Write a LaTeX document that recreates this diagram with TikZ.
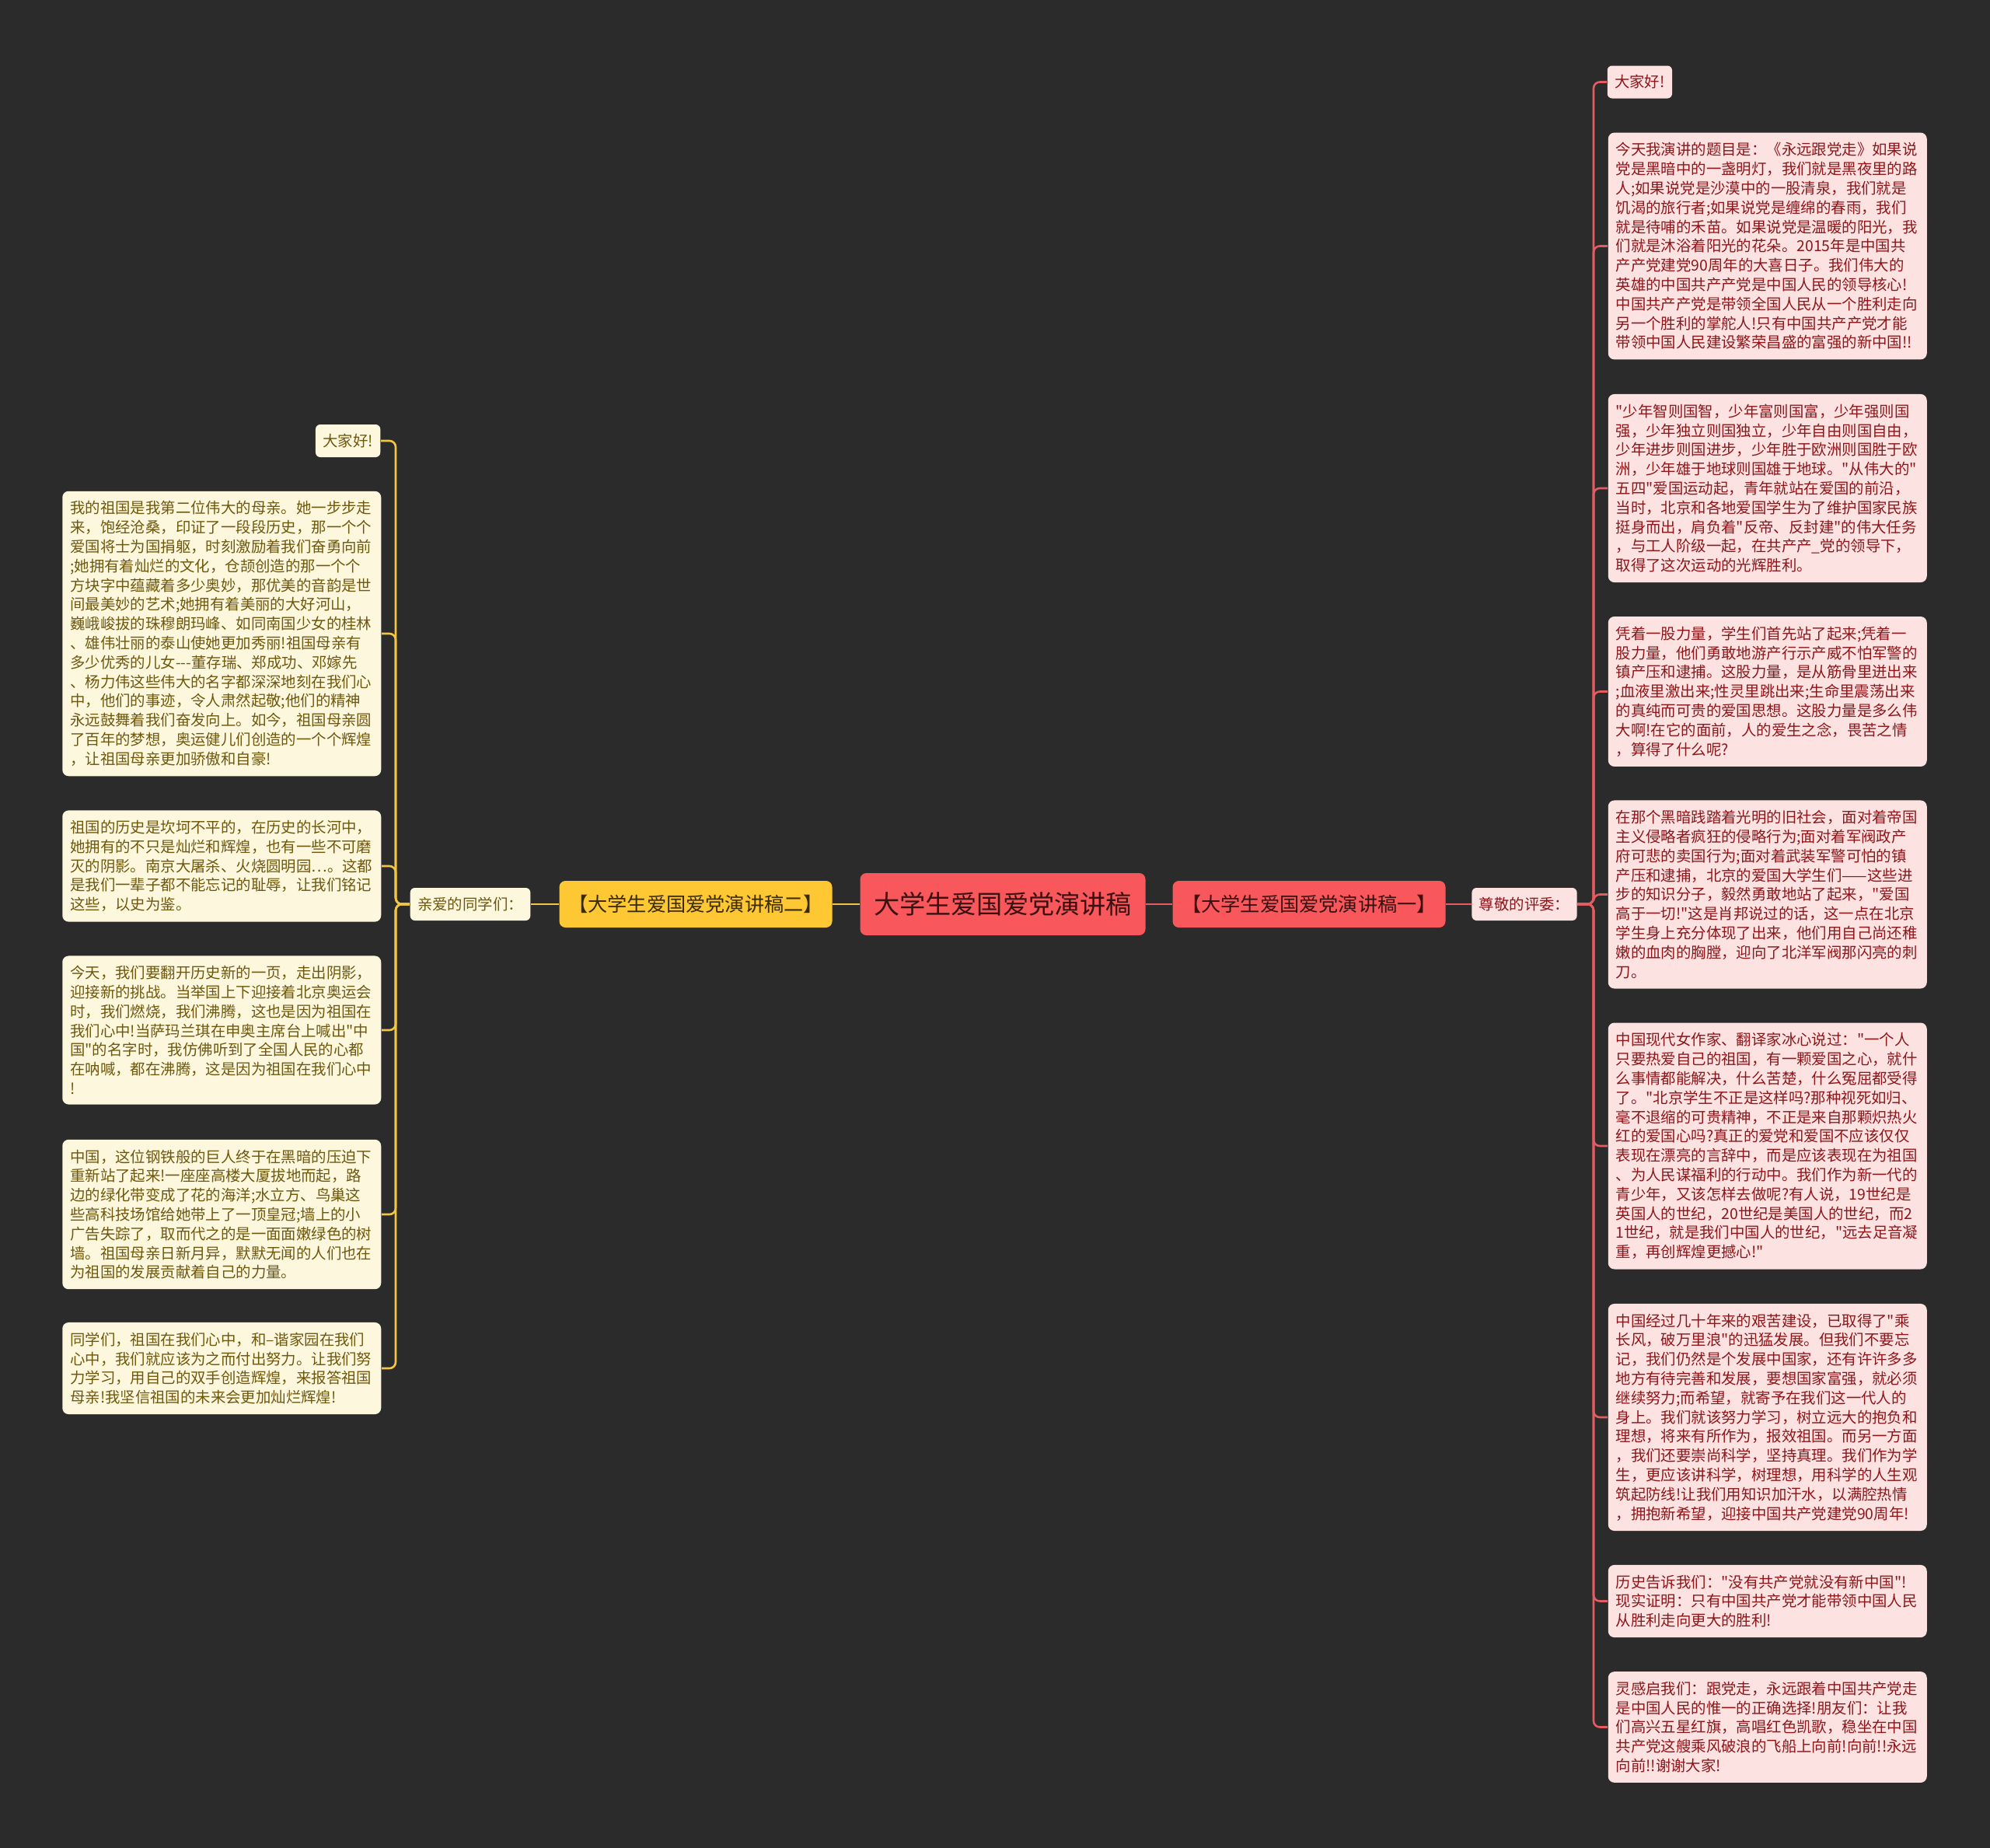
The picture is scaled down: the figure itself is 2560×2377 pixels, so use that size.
\documentclass[tikz,border=0pt]{standalone}
\usepackage{fontspec}
\newfontfamily\zhfont{Noto Sans CJK SC}
\usetikzlibrary{positioning}

\definecolor{bgdark}{RGB}{43,43,43}
\definecolor{topicred}{RGB}{248,87,91}
\definecolor{topicink}{RGB}{58,16,16}
\definecolor{goldfill}{RGB}{253,200,52}
\definecolor{goldink}{RGB}{58,42,0}
\definecolor{pinkfill}{RGB}{253,226,226}
\definecolor{pinkink}{RGB}{140,22,26}
\definecolor{creamfill}{RGB}{253,247,221}
\definecolor{creamink}{RGB}{110,88,14}
\definecolor{redline}{RGB}{228,92,96}
\definecolor{goldline}{RGB}{242,198,66}

\tikzset{every picture/.style={line width=0.75pt}}
\tikzset{
  topicbox/.style={fill=topicred, text=topicink, rounded corners=4pt, inner sep=0pt,
    minimum width=183.5pt, minimum height=40pt, font=\zhfont\fontsize{16.6}{20}\selectfont},
  redbranch/.style={fill=topicred, text=topicink, rounded corners=4pt, inner sep=0pt,
    minimum width=175.5pt, minimum height=30pt, font=\zhfont\fontsize{12.6}{15}\selectfont},
  goldbranch/.style={redbranch, fill=goldfill, text=goldink},
  pinklabel/.style={fill=pinkfill, text=pinkink, rounded corners=3pt, inner xsep=4.7pt, inner ysep=0pt,
    minimum height=21pt, font=\zhfont\fontsize{9.7}{12.4}\selectfont},
  creamlabel/.style={pinklabel, fill=creamfill, text=creamink},
  pinkleaf/.style={fill=pinkfill, text=pinkink, rounded corners=4pt, inner xsep=5pt, inner ysep=6.4pt,
    text width=195pt, align=left, font=\zhfont\fontsize{9.7}{12.4}\selectfont},
  creamleaf/.style={pinkleaf, fill=creamfill, text=creamink},
  redlink/.style={draw=redline, line width=1.3pt, rounded corners=4pt},
  goldlink/.style={draw=goldline, line width=1.3pt, rounded corners=4pt}
}

\begin{document}
\begin{tikzpicture}[x=0.5pt,y=0.5pt,yscale=-1,xscale=1]
%Background
\fill[bgdark] (0,0) rectangle (2560,2377);
\useasboundingbox (0,0) rectangle (2560,2377);

% Text Node
\node[topicbox] (topic) at (1290,1163) {大学生爱国爱党演讲稿};
% Text Node
\node[redbranch] (branchR) at (1684,1163) {【大学生爱国爱党演讲稿一】};
% Text Node
\node[goldbranch] (branchL) at (895,1163) {【大学生爱国爱党演讲稿二】};
% Text Node
\node[pinklabel] (judges) at (1961,1163) {尊敬的评委：};
% Text Node
\node[creamlabel] (classmates) at (605,1163) {亲爱的同学们：};

%Right leaves
\node[pinklabel, anchor=west] (r0) at (2067,105.5) {大家好!};
\node[pinkleaf, anchor=west] (r1) at (2068,316.5) {今天我演讲的题目是：《永远跟党走》如果说\\
党是黑暗中的一盏明灯，我们就是黑夜里的路\\
人;如果说党是沙漠中的一股清泉，我们就是\\
饥渴的旅行者;如果说党是缠绵的春雨，我们\\
就是待哺的禾苗。如果说党是温暖的阳光，我\\
们就是沐浴着阳光的花朵。2015年是中国共\\
产产党建党90周年的大喜日子。我们伟大的\\
英雄的中国共产产党是中国人民的领导核心!\\
中国共产产党是带领全国人民从一个胜利走向\\
另一个胜利的掌舵人!只有中国共产产党才能\\
带领中国人民建设繁荣昌盛的富强的新中国!!};
\node[pinkleaf, anchor=west] (r2) at (2068,628) {"少年智则国智，少年富则国富，少年强则国\\
强，少年独立则国独立，少年自由则国自由，\\
少年进步则国进步，少年胜于欧洲则国胜于欧\\
洲，少年雄于地球则国雄于地球。"从伟大的"\\
五四"爱国运动起，青年就站在爱国的前沿，\\
当时，北京和各地爱国学生为了维护国家民族\\
挺身而出，肩负着"反帝、反封建"的伟大任务\\
，与工人阶级一起，在共产产\_党的领导下，\\
取得了这次运动的光辉胜利。};
\node[pinkleaf, anchor=west] (r3) at (2068,889.5) {凭着一股力量，学生们首先站了起来;凭着一\\
股力量，他们勇敢地游产行示产威不怕军警的\\
镇产压和逮捕。这股力量，是从筋骨里迸出来\\
;血液里激出来;性灵里跳出来;生命里震荡出来\\
的真纯而可贵的爱国思想。这股力量是多么伟\\
大啊!在它的面前，人的爱生之念，畏苦之情\\
，算得了什么呢?};
\node[pinkleaf, anchor=west] (r4) at (2068,1150.5) {在那个黑暗践踏着光明的旧社会，面对着帝国\\
主义侵略者疯狂的侵略行为;面对着军阀政产\\
府可悲的卖国行为;面对着武装军警可怕的镇\\
产压和逮捕，北京的爱国大学生们——这些进\\
步的知识分子，毅然勇敢地站了起来，"爱国\\
高于一切!"这是肖邦说过的话，这一点在北京\\
学生身上充分体现了出来，他们用自己尚还稚\\
嫩的血肉的胸膛，迎向了北洋军阀那闪亮的刺\\
刀。};
\node[pinkleaf, anchor=west] (r5) at (2068,1474) {中国现代女作家、翻译家冰心说过："一个人\\
只要热爱自己的祖国，有一颗爱国之心，就什\\
么事情都能解决，什么苦楚，什么冤屈都受得\\
了。"北京学生不正是这样吗?那种视死如归、\\
毫不退缩的可贵精神，不正是来自那颗炽热火\\
红的爱国心吗?真正的爱党和爱国不应该仅仅\\
表现在漂亮的言辞中，而是应该表现在为祖国\\
、为人民谋福利的行动中。我们作为新一代的\\
青少年，又该怎样去做呢?有人说，19世纪是\\
英国人的世纪，20世纪是美国人的世纪，而2\\
1世纪，就是我们中国人的世纪，"远去足音凝\\
重，再创辉煌更撼心!"};
\node[pinkleaf, anchor=west] (r6) at (2068,1823) {中国经过几十年来的艰苦建设，已取得了"乘\\
长风，破万里浪"的迅猛发展。但我们不要忘\\
记，我们仍然是个发展中国家，还有许许多多\\
地方有待完善和发展，要想国家富强，就必须\\
继续努力;而希望，就寄予在我们这一代人的\\
身上。我们就该努力学习，树立远大的抱负和\\
理想，将来有所作为，报效祖国。而另一方面\\
，我们还要崇尚科学，坚持真理。我们作为学\\
生，更应该讲科学，树理想，用科学的人生观\\
筑起防线!让我们用知识加汗水，以满腔热情\\
，拥抱新希望，迎接中国共产党建党90周年!};
\node[pinkleaf, anchor=west] (r7) at (2068,2059.5) {历史告诉我们："没有共产党就没有新中国"!\\
现实证明：只有中国共产党才能带领中国人民\\
从胜利走向更大的胜利!};
\node[pinkleaf, anchor=west] (r8) at (2068,2221.5) {灵感启我们：跟党走，永远跟着中国共产党走\\
是中国人民的惟一的正确选择!朋友们：让我\\
们高兴五星红旗，高唱红色凯歌，稳坐在中国\\
共产党这艘乘风破浪的飞船上向前!向前!!永远\\
向前!!谢谢大家!};

%Left leaves
\node[creamlabel, anchor=east] (l0) at (490,567) {大家好!};
\node[creamleaf, anchor=east] (l1) at (491,815) {我的祖国是我第二位伟大的母亲。她一步步走\\
来，饱经沧桑，印证了一段段历史，那一个个\\
爱国将士为国捐躯，时刻激励着我们奋勇向前\\
;她拥有着灿烂的文化，仓颉创造的那一个个\\
方块字中蕴藏着多少奥妙，那优美的音韵是世\\
间最美妙的艺术;她拥有着美丽的大好河山，\\
巍峨峻拔的珠穆朗玛峰、如同南国少女的桂林\\
、雄伟壮丽的泰山使她更加秀丽!祖国母亲有\\
多少优秀的儿女{-}{-}{-}董存瑞、郑成功、邓嫁先\\
、杨力伟这些伟大的名字都深深地刻在我们心\\
中，他们的事迹，令人肃然起敬;他们的精神\\
永远鼓舞着我们奋发向上。如今，祖国母亲圆\\
了百年的梦想，奥运健儿们创造的一个个辉煌\\
，让祖国母亲更加骄傲和自豪!};
\node[creamleaf, anchor=east] (l2) at (491,1114) {祖国的历史是坎坷不平的，在历史的长河中，\\
她拥有的不只是灿烂和辉煌，也有一些不可磨\\
灭的阴影。南京大屠杀、火烧圆明园…。这都\\
是我们一辈子都不能忘记的耻辱，让我们铭记\\
这些，以史为鉴。};
\node[creamleaf, anchor=east] (l3) at (491,1325) {今天，我们要翻开历史新的一页，走出阴影，\\
迎接新的挑战。当举国上下迎接着北京奥运会\\
时，我们燃烧，我们沸腾，这也是因为祖国在\\
我们心中!当萨玛兰琪在申奥主席台上喊出"中\\
国"的名字时，我仿佛听到了全国人民的心都\\
在呐喊，都在沸腾，这是因为祖国在我们心中\\
!};
\node[creamleaf, anchor=east] (l4) at (491,1562) {中国，这位钢铁般的巨人终于在黑暗的压迫下\\
重新站了起来!一座座高楼大厦拔地而起，路\\
边的绿化带变成了花的海洋;水立方、鸟巢这\\
些高科技场馆给她带上了一顶皇冠;墙上的小\\
广告失踪了，取而代之的是一面面嫩绿色的树\\
墙。祖国母亲日新月异，默默无闻的人们也在\\
为祖国的发展贡献着自己的力量。};
\node[creamleaf, anchor=east] (l5) at (491,1760) {同学们，祖国在我们心中，和–谐家园在我们\\
心中，我们就应该为之而付出努力。让我们努\\
力学习，用自己的双手创造辉煌，来报答祖国\\
母亲!我坚信祖国的未来会更加灿烂辉煌!};

%Straight Lines
\draw[redlink] (topic.east) -- (branchR.west);
\draw[goldlink] (topic.west) -- (branchL.east);
\draw[redlink] (branchR.east) -- (judges.west);
\draw[goldlink] (branchL.west) -- (classmates.east);

%Trunks
\coordinate (trunkR) at (2050,1163);
\coordinate (trunkL) at (509,1163);

%Curve Lines right
\draw[redlink] (judges.east) -- (trunkR) |- (r0.west);
\draw[redlink] (judges.east) -- (trunkR) |- (r1.west);
\draw[redlink] (judges.east) -- (trunkR) |- (r2.west);
\draw[redlink] (judges.east) -- (trunkR) |- (r3.west);
\draw[redlink] (judges.east) -- (trunkR) |- (r4.west);
\draw[redlink] (judges.east) -- (trunkR) |- (r5.west);
\draw[redlink] (judges.east) -- (trunkR) |- (r6.west);
\draw[redlink] (judges.east) -- (trunkR) |- (r7.west);
\draw[redlink] (judges.east) -- (trunkR) |- (r8.west);

%Curve Lines left
\draw[goldlink] (classmates.west) -- (trunkL) |- (l0.east);
\draw[goldlink] (classmates.west) -- (trunkL) |- (l1.east);
\draw[goldlink] (classmates.west) -- (trunkL) |- (l2.east);
\draw[goldlink] (classmates.west) -- (trunkL) |- (l3.east);
\draw[goldlink] (classmates.west) -- (trunkL) |- (l4.east);
\draw[goldlink] (classmates.west) -- (trunkL) |- (l5.east);

\end{tikzpicture}
\end{document}
